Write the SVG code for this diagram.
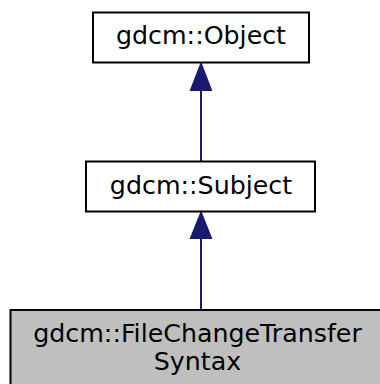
<svg xmlns="http://www.w3.org/2000/svg" width="380" height="384" viewBox="0 0 380 384">
<style>
.box{fill:#ffffff;stroke:#000000;stroke-width:2}
.cur{fill:#bfbfbf;stroke:#000000;stroke-width:2}
.lbl{font-family:"DejaVu Sans",sans-serif;font-size:25.3px;fill:#000000;text-anchor:middle}
.edge{stroke:#191970;stroke-width:2;fill:none}
.head{fill:#191970;stroke:#191970;stroke-width:2}
</style>
<rect width="380" height="384" fill="#ffffff"/>
<g id="connectors">
<path class="edge" d="M201,91 V161"/>
<polygon class="head" points="201,64 191,90 211,90"/>
<path class="edge" d="M201,239 V310"/>
<polygon class="head" points="201,213 191,238 211,238"/>
</g>
<g id="node-object">
<rect class="box" x="93" y="12.5" width="216" height="50"/>
<text class="lbl" x="201" y="44">gdcm::Object</text>
</g>
<g id="node-subject">
<rect class="box" x="86" y="161.5" width="229" height="50"/>
<text class="lbl" x="201" y="193.5">gdcm::Subject</text>
</g>
<g id="node-filechange">
<rect class="cur" x="10.5" y="310" width="380" height="80"/>
<text class="lbl" x="197.5" y="342">gdcm::FileChangeTransfer</text>
<text class="lbl" x="197.5" y="370">Syntax</text>
</g>
</svg>
